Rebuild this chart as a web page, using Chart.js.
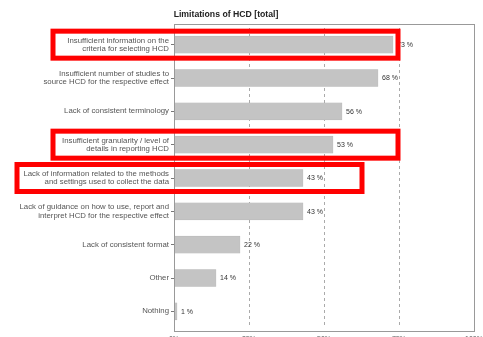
<!DOCTYPE html>
<html lang="en">
<head>
    <meta charset="UTF-8">
    <script src="https://cdn.jsdelivr.net/npm/chart.js"></script>
    <title>Limitations of HCD</title>
    <style>
        body { margin: 0; overflow: hidden; background: #fff; }
        #wrap { position: absolute; left: 0; top: 0; width: 483px; height: 350px; }
    </style>
</head>
<body>
    <div id="wrap"><canvas id="chart"></canvas></div>

    <script>
        // data
        const categories = [
            ['Insufficient information on the', 'criteria for selecting HCD'],
            ['Insufficient number of studies to', 'source HCD for the respective effect'],
            'Lack of consistent terminology',
            ['Insufficient granularity / level of', 'details in reporting HCD'],
            ['Lack of information related to the methods', 'and settings used to collect the data'],
            ['Lack of guidance on how to use, report and', 'interpret HCD for the respective effect'],
            'Lack of consistent format',
            'Other',
            'Nothing'
        ];
        const percentages = [73, 68, 56, 53, 43, 43, 22, 14, 1];
        const xTicks = [0, 25, 50, 75, 100];
        const highlighted = [0, 3, 4];

        const font = "'Liberation Sans', Arial, sans-serif";

        // title, frame, value labels and the red highlight boxes
        const extras = {
            id: 'extras',
            afterDatasetsDraw(chart) {
                const ctx = chart.ctx;
                const a = chart.chartArea;
                ctx.save();
                ctx.strokeStyle = '#999';
                ctx.lineWidth = 1;
                ctx.strokeRect(a.left + 0.5, a.top - 3.5, a.right - a.left, a.bottom - a.top + 7);

                ctx.fillStyle = '#333';
                ctx.font = '7px ' + font;
                ctx.textBaseline = 'middle';
                chart.getDatasetMeta(0).data.forEach((bar, i) => {
                    ctx.fillText(percentages[i] + ' %', bar.x + 4, bar.y + 0.5);
                });

                ctx.fillStyle = '#222';
                ctx.font = 'bold 8.7px ' + font;
                ctx.textAlign = 'center';
                ctx.fillText('Limitations of HCD [total]', 226, 15);
                ctx.restore();
            },
            afterDraw(chart) {
                const ctx = chart.ctx;
                const y = chart.scales.y;
                const boxX = { 0: [53, 398], 3: [53, 398], 4: [17, 362] };
                ctx.save();
                ctx.strokeStyle = '#ff0000';
                ctx.lineWidth = 5;
                highlighted.forEach(i => {
                    const c = y.getPixelForValue(i);
                    const [l, r] = boxX[i];
                    ctx.strokeRect(l, c - 13.5, r - l, 27);
                });
                ctx.restore();
            }
        };

        new Chart(document.getElementById('chart'), {
            type: 'bar',
            data: {
                labels: categories,
                datasets: [{
                    data: percentages,
                    backgroundColor: '#c4c4c4',
                    borderColor: '#b0b0b0',
                    borderWidth: 0.5,
                    barThickness: 17
                }]
            },
            options: {
                indexAxis: 'y',
                responsive: true,
                maintainAspectRatio: false,
                animation: false,
                layout: { padding: { top: 28, right: 9, left: 0, bottom: 0 } },
                plugins: {
                    legend: { display: false },
                    tooltip: { enabled: false }
                },
                scales: {
                    x: {
                        min: 0,
                        max: 100,
                        afterBuildTicks: s => { s.ticks = xTicks.map(v => ({ value: v })); },
                        afterFit: s => { s.height = 22; s.paddingLeft = 0; s.paddingRight = 0; },
                        grid: { color: '#aaa', drawTicks: false },
                        border: { display: false, dash: [3, 3] },
                        ticks: {
                            padding: 7,
                            color: '#555',
                            font: { family: font, size: 7 },
                            callback: v => v + '%'
                        }
                    },
                    y: {
                        afterFit: s => { s.width = 174; },
                        grid: { drawOnChartArea: false, offset: false, tickLength: 3, color: '#777' },
                        border: { display: true, color: '#999' },
                        ticks: {
                            padding: 2,
                            color: '#555',
                            font: { family: font, size: 7.8, lineHeight: 1.05 }
                        }
                    }
                }
            },
            plugins: [extras]
        });
    </script>
</body>
</html>
